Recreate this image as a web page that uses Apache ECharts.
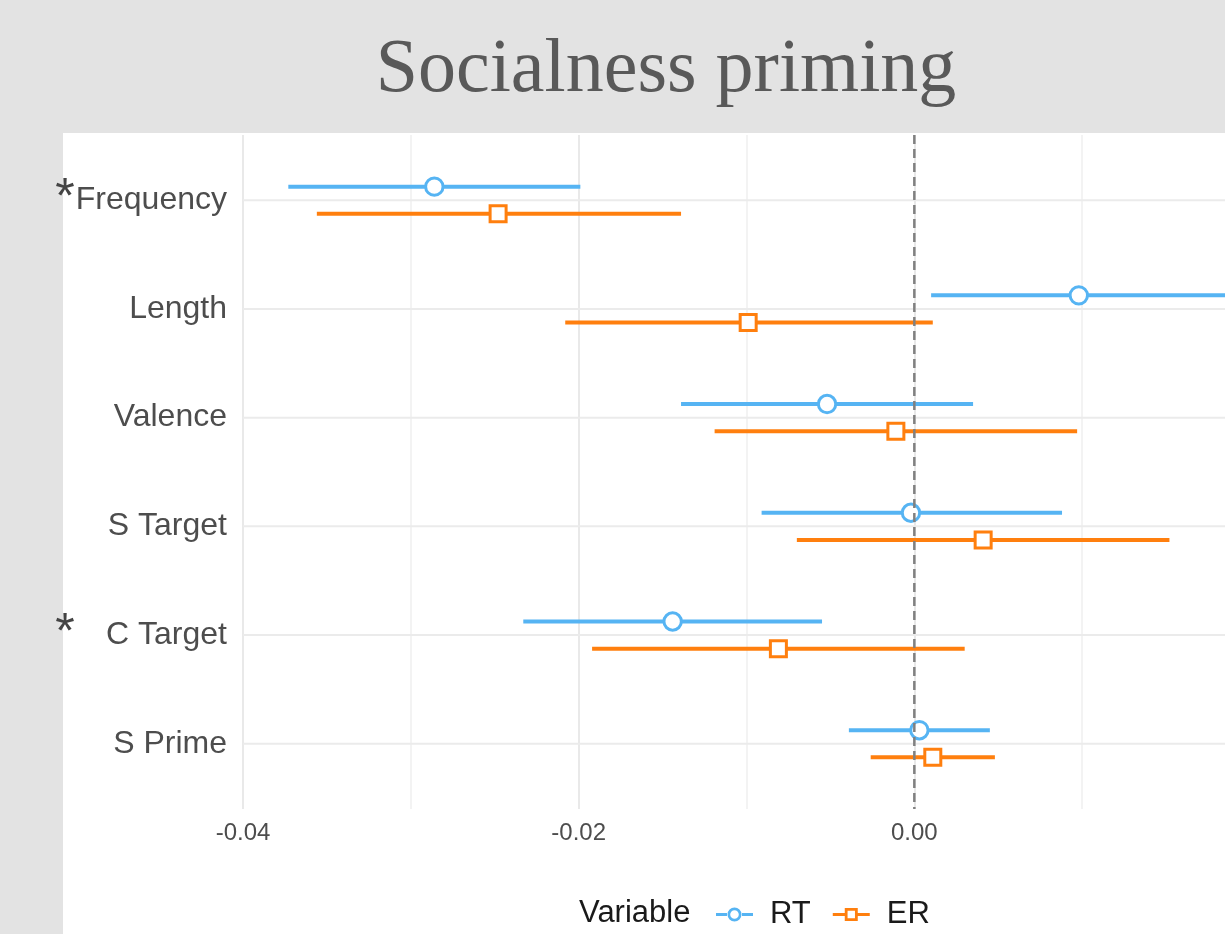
<!DOCTYPE html>
<html>
<head>
<meta charset="utf-8">
<script src="https://cdn.jsdelivr.net/npm/echarts@6/dist/echarts.min.js"></script>
<style>
html,body{margin:0;padding:0;background:#e3e3e3;}
#chart{width:1225px;height:934px;}
</style>
</head>
<body>
<div id="chart"></div>
<script>
// ---- data ----
const categories = ['Frequency', 'Length', 'Valence', 'S Target', 'C Target', 'S Prime'];
const significant = ['Frequency', 'C Target'];
const rtEst = [-0.0286, 0.0098, -0.0052, -0.0002, -0.0144, 0.0003];
const rtLo  = [-0.0373, 0.0010, -0.0139, -0.0091, -0.0233, -0.0039];
const rtHi  = [-0.0199, 0.0186, 0.0035, 0.0088, -0.0055, 0.0045];
const erEst = [-0.0248, -0.0099, -0.0011, 0.0041, -0.0081, 0.0011];
const erLo  = [-0.0356, -0.0208, -0.0119, -0.0070, -0.0192, -0.0026];
const erHi  = [-0.0139, 0.0011, 0.0097, 0.0152, 0.0030, 0.0048];
const xTicks = [-0.04, -0.02, 0.00, 0.02];
const titleText = 'Socialness priming';
const legendTitle = 'Variable';

const dodge = 0.125;
const blue = '#56b4f3';
const orange = '#ff7f0e';

const rtData = categories.map((c, i) => [rtLo[i], rtHi[i], rtEst[i], i - dodge]);
const erData = categories.map((c, i) => [erLo[i], erHi[i], erEst[i], i + dodge]);

function makeRender(color, shape) {
  return function (params, api) {
    const lo = api.coord([api.value(0), api.value(3)]);
    const hi = api.coord([api.value(1), api.value(3)]);
    const pt = api.coord([api.value(2), api.value(3)]);
    const children = [{
      type: 'line',
      shape: {x1: lo[0], y1: lo[1], x2: hi[0], y2: hi[1]},
      style: {stroke: color, lineWidth: 4}
    }];
    if (shape === 'circle') {
      children.push({type: 'circle', shape: {cx: pt[0], cy: pt[1], r: 8.7},
        style: {fill: '#fff', stroke: color, lineWidth: 3}});
    } else {
      children.push({type: 'rect', shape: {x: pt[0] - 8, y: pt[1] - 8, width: 16, height: 16},
        style: {fill: '#fff', stroke: color, lineWidth: 3}});
    }
    return {type: 'group', children};
  };
}

const iconRT = 'path://M0,5.5H11V8.5H0Z M26,5.5H37V8.5H26Z M25.5,7A7,7,0,1,0,11.5,7A7,7,0,1,0,25.5,7Z M22.8,7A4.3,4.3,0,1,1,14.2,7A4.3,4.3,0,1,1,22.8,7Z';
const iconER = 'path://M0,5.5H12V8.5H0Z M25,5.5H37V8.5H25Z M12,0.5H25V13.5H12Z M14.8,3.3V10.7H22.2V3.3Z';

const chart = echarts.init(document.getElementById('chart'));

const baseGraphic = [
  {id: 'panel', type: 'rect', z: -100, silent: true,
   shape: {x: 63, y: 133, width: 1200, height: 820}, style: {fill: '#ffffff'}},
  {id: 'title', type: 'text', x: 666, y: 71, silent: true,
   style: {text: titleText, font: '76px "Liberation Serif"', fill: '#595959',
           textAlign: 'center', textVerticalAlign: 'middle'}},
  {id: 'legtitle', type: 'text', x: 579, y: 913, silent: true,
   style: {text: legendTitle, font: '31px "Liberation Sans"', fill: '#1a1a1a',
           textAlign: 'left', textVerticalAlign: 'middle'}}
];

chart.setOption({
  backgroundColor: '#e3e3e3',
  animation: false,
  textStyle: {fontFamily: 'Liberation Sans'},
  grid: {left: 243, width: 1007, top: 135, height: 674, containLabel: false, outerBoundsMode: 'none'},
  xAxis: {
    type: 'value', min: -0.04, max: 0.02, interval: 0.02,
    axisLine: {show: false}, axisTick: {show: false},
    axisLabel: {color: '#4d4d4d', fontSize: 24, margin: 12,
      formatter: v => v.toFixed(2)},
    splitLine: {show: true, lineStyle: {color: '#e9e9e9', width: 2}},
    minorTick: {show: false, splitNumber: 2},
    minorSplitLine: {show: true, lineStyle: {color: '#efefef', width: 1.5}}
  },
  yAxis: {
    type: 'value', inverse: true, min: -0.6, max: 5.6,
    axisLine: {show: false}, axisTick: {show: false},
    splitLine: {show: false},
    axisLabel: {
      color: '#4d4d4d', fontSize: 32, margin: 16, padding: [4, 0, 0, 0],
      customValues: categories.map((c, i) => i),
      formatter: v => (Number.isInteger(v) && categories[v] !== undefined) ? categories[v] : ''
    }
  },
  legend: {
    data: [{name: 'RT', icon: iconRT}, {name: 'ER', icon: iconER}],
    left: 716, top: 899, orient: 'horizontal', padding: 0,
    itemWidth: 37, itemHeight: 14, itemGap: 22,
    itemStyle: {borderWidth: 0},
    textStyle: {fontSize: 31, color: '#1a1a1a', padding: [0, 0, 0, 12]}
  },
  graphic: baseGraphic,
  series: [
    {
      name: 'hgrid', type: 'custom', silent: true, z: 1,
      data: categories.map((c, i) => [0, i]),
      encode: {x: 0, y: 1},
      renderItem: function (params, api) {
        const cs = params.coordSys;
        const y = api.coord([0, api.value(1)])[1];
        return {type: 'line', shape: {x1: cs.x, y1: y, x2: cs.x + cs.width, y2: y},
          style: {stroke: '#ebebeb', lineWidth: 2}};
      }
    },
    {
      name: 'RT', type: 'custom', z: 3,
      itemStyle: {color: blue},
      data: rtData,
      encode: {x: [0, 1, 2], y: 3},
      renderItem: makeRender(blue, 'circle')
    },
    {
      name: 'ER', type: 'custom', z: 3,
      itemStyle: {color: orange},
      data: erData,
      encode: {x: [0, 1, 2], y: 3},
      renderItem: makeRender(orange, 'square')
    },
    {
      name: 'zero', type: 'custom', silent: true, z: 10,
      data: [[0, 0]],
      encode: {x: 0, y: 1},
      renderItem: function (params, api) {
        const cs = params.coordSys;
        const x = api.coord([api.value(0), 0])[0];
        return {type: 'line', shape: {x1: x, y1: cs.y, x2: x, y2: cs.y + cs.height},
          style: {stroke: '#808080', lineWidth: 2.5, lineDash: [9, 5]}};
      }
    }
  ]
});

// asterisks marking significant predictors, placed via the y scale
const stars = significant.map((name, k) => {
  const idx = categories.indexOf(name);
  const py = chart.convertToPixel({yAxisIndex: 0}, idx);
  return {id: 'star' + k, type: 'text', x: 65, y: py - 1, silent: true,
    style: {text: '*', font: '50px "Liberation Sans"', fill: '#444444',
            textAlign: 'center', textVerticalAlign: 'middle'}};
});
chart.setOption({graphic: baseGraphic.concat(stars)});
</script>
</body>
</html>
